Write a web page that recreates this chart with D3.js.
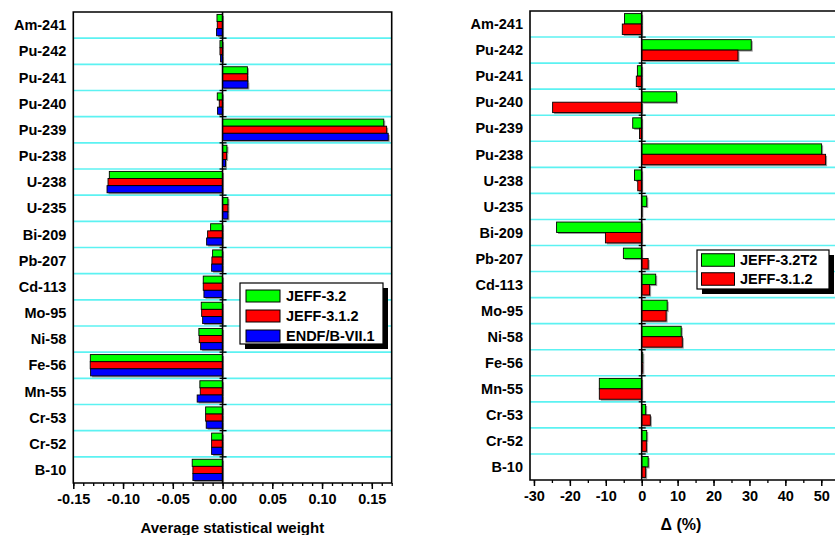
<!DOCTYPE html>
<html><head><meta charset="utf-8">
<script src="https://cdn.jsdelivr.net/npm/d3@7"></script>
<style>
body{margin:0;background:#fff;}
text{font-family:"Liberation Sans",Arial,sans-serif;font-weight:bold;fill:#000;}
</style></head>
<body>
<svg id="c" width="835" height="535"></svg>
<script>
const categories = ["Am-241","Pu-242","Pu-241","Pu-240","Pu-239","Pu-238","U-238","U-235","Bi-209","Pb-207","Cd-113","Mo-95","Ni-58","Fe-56","Mn-55","Cr-53","Cr-52","B-10"];
const jeff32  = [-0.0056,-0.0026,0.025,-0.0053,0.162,0.0044,-0.1138,0.0054,-0.012,-0.010,-0.0194,-0.0214,-0.0238,-0.1329,-0.0228,-0.017,-0.011,-0.0305];
const jeff312 = [-0.0053,-0.0026,0.025,-0.0033,0.1649,0.0041,-0.1151,0.0054,-0.015,-0.0107,-0.0194,-0.021,-0.0234,-0.133,-0.0224,-0.017,-0.011,-0.0298];
const endf71  = [-0.006,-0.002,0.0254,-0.005,0.1665,0.003,-0.1161,0.0054,-0.016,-0.011,-0.0187,-0.020,-0.022,-0.1326,-0.0255,-0.0164,-0.011,-0.0298];
const delta32T2 = [-4.8,30.5,-1.2,9.7,-2.5,50.1,-2.0,1.4,-23.7,-5.1,3.9,7.1,11.0,0.3,-11.8,1.1,1.4,1.8];
const delta312  = [-5.4,26.8,-1.5,-24.8,-0.6,51.2,-1.1,0.1,-10.1,1.8,2.2,6.8,11.3,0.3,-11.8,2.4,1.3,1.1];
const leftTicks = [-0.15,-0.10,-0.05,0.00,0.05,0.10,0.15];
const rightTicks = [-30,-20,-10,0,10,20,30,40,50];

const svg = d3.select("#c");
const GRID = "#5cf2f2";
const hy = f => (d => f(d).replace("\u2212","-"));

function panel(opt){
  const g = svg.append("g");
  const x = d3.scaleLinear().domain(opt.xdomain).range(opt.xrange);
  const y = d3.scaleBand().domain(categories).range(opt.yrange).paddingInner(0).paddingOuter(0);
  const bw = y.bandwidth();
  const [x0,x1] = opt.xrange, [y0,y1] = opt.yrange;
  g.selectAll("line.grid").data(categories.slice(1)).join("line")
    .attr("x1",x0).attr("x2",x1)
    .attr("y1",d=>y(d)).attr("y2",d=>y(d))
    .attr("stroke",GRID).attr("stroke-width",1.6);
  const n = opt.series.length;
  const inner = bw*opt.fill;
  const bh = inner/n;
  opt.series.forEach((s,si)=>{
    const data = s.values.map((v,i)=>({c:categories[i],v}));
    const yy = d=> y(d.c) + (bw-inner)/2 + si*bh;
    g.selectAll(null).data(data).join("rect")
      .attr("x",d=>Math.min(x(0),x(d.v))+1.5).attr("y",d=>yy(d)+1.5)
      .attr("width",d=>Math.abs(x(d.v)-x(0))).attr("height",bh)
      .attr("fill","#999");
  });
  opt.series.forEach((s,si)=>{
    const data = s.values.map((v,i)=>({c:categories[i],v}));
    const yy = d=> y(d.c) + (bw-inner)/2 + si*bh;
    g.selectAll(null).data(data).join("rect")
      .attr("x",d=>Math.min(x(0),x(d.v))).attr("y",d=>yy(d))
      .attr("width",d=>Math.abs(x(d.v)-x(0))).attr("height",bh)
      .attr("fill",s.color).attr("stroke","#000").attr("stroke-width",0.9);
  });
  g.append("line").attr("x1",x(0)).attr("x2",x(0)).attr("y1",y0).attr("y2",y1)
    .attr("stroke","#000").attr("stroke-width",1.6);
  g.selectAll(null).data(categories.slice(1)).join("line")
    .attr("x1",x(0)-3).attr("x2",x(0)+4)
    .attr("y1",d=>y(d)).attr("y2",d=>y(d))
    .attr("stroke","#000").attr("stroke-width",1.3);
  g.append("path")
    .attr("d", opt.openRight
      ? `M${x1},${y0}H${x0}V${y1}H${x1}`
      : `M${x0},${y0}H${x1}V${y1}H${x0}Z`)
    .attr("fill","none").attr("stroke","#000").attr("stroke-width",1.6);
  const ax = g.append("g").attr("transform",`translate(0,${y1})`)
    .call(d3.axisBottom(x).tickValues(opt.majors).tickSize(6).tickPadding(5).tickFormat(opt.fmt));
  ax.attr("font-size",null).attr("font-family",null);
  ax.select(".domain").remove();
  ax.selectAll(".tick line").attr("stroke","#000").attr("stroke-width",1.5);
  ax.selectAll(".tick text").attr("font-size","14.5px").attr("fill","#000");
  const axm = g.append("g").attr("transform",`translate(0,${y1})`)
    .call(d3.axisBottom(x).tickValues(opt.minors).tickSize(3).tickFormat(""));
  axm.select(".domain").remove();
  axm.selectAll(".tick line").attr("stroke","#000").attr("stroke-width",1.3);
  g.selectAll(null).data(categories).join("text")
    .attr("x",x0-7).attr("y",d=>y(d)+bw/2).attr("dy","0.36em")
    .attr("text-anchor","end").attr("font-size","14.5px").text(d=>d);
  g.append("text").attr("x",(x0+opt.titleCx)).attr("y",opt.titleY)
    .attr("text-anchor","middle").attr("font-size",opt.titleSize).text(opt.title);
  const L = opt.legend;
  g.append("rect").attr("x",L.x+5).attr("y",L.y+5).attr("width",L.w).attr("height",L.h).attr("fill","#000");
  g.append("rect").attr("x",L.x).attr("y",L.y).attr("width",L.w).attr("height",L.h)
    .attr("fill","#fff").attr("stroke","#000").attr("stroke-width",1.2);
  opt.series.forEach((s,si)=>{
    const cy = L.y + L.first + si*L.step;
    g.append("rect").attr("x",L.x+L.sx).attr("y",cy-L.sh/2).attr("width",L.sw).attr("height",L.sh)
      .attr("fill",s.color).attr("stroke","#000").attr("stroke-width",1);
    g.append("text").attr("x",L.x+L.tx).attr("y",cy).attr("dy","0.36em")
      .attr("font-size","14.5px").text(s.name);
  });
}

panel({
  xdomain:[-0.15,0.17], xrange:[73.3,391.7], yrange:[12,483],
  fill:0.815,
  series:[{name:"JEFF-3.2",color:"#00ff00",values:jeff32},
          {name:"JEFF-3.1.2",color:"#ff0000",values:jeff312},
          {name:"ENDF/B-VII.1",color:"#0000ff",values:endf71}],
  majors:leftTicks, minors:d3.range(-15,18).map(d=>d/100),
  fmt:hy(d3.format(".2f")),
  title:"Average statistical weight", titleCx:159, titleY:533, titleSize:"15px",
  legend:{x:240,y:283,w:143,h:61,first:13,step:20,sx:6,sw:34,sh:12,tx:46},
  openRight:false
});

panel({
  xdomain:[-31.1,58], xrange:[530,850], yrange:[11,480],
  fill:0.8,
  series:[{name:"JEFF-3.2T2",color:"#00ff00",values:delta32T2},
          {name:"JEFF-3.1.2",color:"#ff0000",values:delta312}],
  majors:rightTicks, minors:d3.range(-30,56,5),
  fmt:hy(d3.format("d")),
  title:"\u0394 (%)", titleCx:151, titleY:530, titleSize:"16px",
  legend:{x:697,y:250,w:132,h:39,first:10,step:19,sx:4.5,sw:33,sh:12.5,tx:43},
  openRight:true
});
</script>
</body></html>
